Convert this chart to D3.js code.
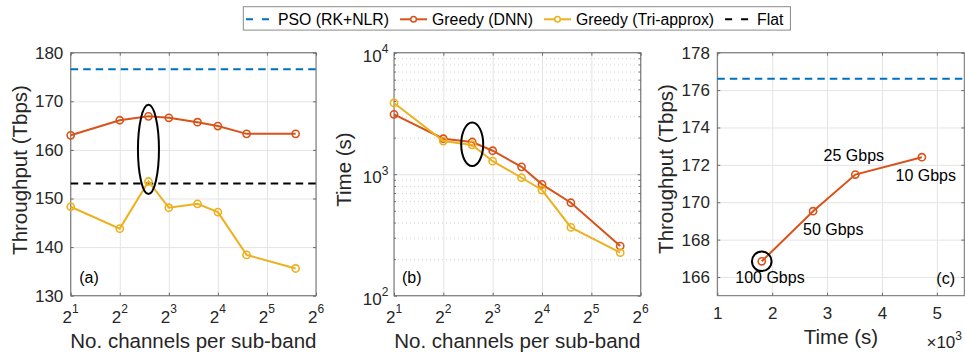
<!DOCTYPE html>
<html>
<head>
<meta charset="utf-8">
<script src="https://cdn.jsdelivr.net/npm/d3@7"></script>
<style>
  body { margin: 0; background: #fff; }
  svg { display: block; font-family: "Liberation Sans", Arial, Helvetica, sans-serif; }
</style>
</head>
<body>
<svg id="fig" width="965" height="354"></svg>
<script>
// channels per sub-band (x axis of panels a and b)
const channels = [2, 4, 6, 8, 12, 16, 24, 48];
// throughput (Tbps)
const thrDNN = [163.0, 166.1, 166.9, 166.6, 165.7, 164.9, 163.3, 163.3];
const thrTri = [148.3, 143.8, 153.5, 148.1, 148.9, 147.2, 138.4, 135.6];
const thrPSO = 176.6;
const thrFlat = 153.1;
// run time (s)
const timeDNN = [3110, 1960, 1840, 1560, 1150, 825, 582, 256];
const timeTri = [3860, 1875, 1740, 1280, 935, 741, 365, 226];
// panel c: DNN greedy for different line rates
const rateLabels = ["100 Gbps", "50 Gbps", "25 Gbps", "10 Gbps"];
const rateTime = [1810, 2745, 3515, 4727];
const rateThr = [166.84, 169.52, 171.48, 172.41];

const seriesNames = ["PSO (RK+NLR)", "Greedy (DNN)", "Greedy (Tri-approx)", "Flat"];

// tick values
const chanTicks = [2, 4, 8, 16, 32, 64];
const thrTicksA = [130, 140, 150, 160, 170, 180];
const timeTicksB = [100, 1000, 10000];
const timeTicksC = [1000, 2000, 3000, 4000, 5000];
const thrTicksC = [166, 168, 170, 172, 174, 176, 178];

const col = { pso: "#0072BD", dnn: "#D95319", tri: "#EDB120", flat: "#000000" };
const txt = "#262626";
const gridCol = "#e4e4e4";
const boxCol = "#6b6b6b";

const svg = d3.select("#fig");
const plotTop = 52.7, plotBottom = 295.7;

function panel(left, right) {
  const g = svg.append("g").attr("transform", `translate(${left},${plotTop})`);
  return { g, left, w: right - left, h: plotBottom - plotTop };
}

// gridlines, inward ticks on all four sides, and the box
function frame(p, x, y, xt, yt) {
  p.g.append("g")
    .attr("transform", `translate(0,${p.h})`)
    .attr("color", gridCol)
    .call(d3.axisBottom(x).tickValues(xt).tickSize(-p.h).tickFormat(""))
    .call(a => a.select(".domain").remove());
  p.g.append("g")
    .attr("color", gridCol)
    .call(d3.axisLeft(y).tickValues(yt).tickSize(-p.w).tickFormat(""))
    .call(a => a.select(".domain").remove());

  const tk = [
    [d3.axisBottom(x).tickValues(xt), `translate(0,${p.h})`],
    [d3.axisTop(x).tickValues(xt), null],
    [d3.axisLeft(y).tickValues(yt), null],
    [d3.axisRight(y).tickValues(yt), `translate(${p.w},0)`]
  ];
  tk.forEach(([ax, tr]) => {
    const a = p.g.append("g").attr("color", boxCol)
      .call(ax.tickSizeInner(-3).tickSizeOuter(0).tickFormat(""));
    if (tr) a.attr("transform", tr);
    a.select(".domain").remove();
  });

  p.g.append("rect")
    .attr("width", p.w).attr("height", p.h)
    .attr("fill", "none").attr("stroke", boxCol).attr("stroke-width", 1);
}

function series(p, x, y, xs, ys, color) {
  const pts = xs.map((v, i) => [x(v), y(ys[i])]);
  p.g.append("path")
    .attr("d", d3.line()(pts))
    .attr("fill", "none").attr("stroke", color).attr("stroke-width", 2);
  p.g.selectAll(null).data(pts).join("circle")
    .attr("cx", d => d[0]).attr("cy", d => d[1]).attr("r", 3.6)
    .attr("fill", "none").attr("stroke", color).attr("stroke-width", 1.6);
}

function hline(p, y, v, color) {
  p.g.append("line")
    .attr("x1", 0).attr("x2", p.w).attr("y1", y(v)).attr("y2", y(v))
    .attr("stroke", color).attr("stroke-width", 2).attr("stroke-dasharray", "7.5,5");
}

// 2^n labels under a log2 axis
function powLabels(p, x, base) {
  const a = p.g.append("g").attr("transform", `translate(0,${p.h})`);
  const t = a.selectAll(null).data(chanTicks).join("text")
    .attr("x", d => x(d)).attr("y", 27.3)
    .attr("text-anchor", "middle").attr("fill", txt);
  t.append("tspan").attr("font-size", 17).text(base);
  t.append("tspan").attr("font-size", 12).attr("dy", -9.8).text(d => Math.round(Math.log2(d)));
}

function yLabel(x, yc, s) {
  svg.append("text")
    .attr("transform", `translate(${x},${yc}) rotate(-90)`)
    .attr("text-anchor", "middle").attr("font-size", 20.5).attr("fill", txt).text(s);
}
function xLabel(xc, y, s) {
  svg.append("text")
    .attr("x", xc).attr("y", y)
    .attr("text-anchor", "middle").attr("font-size", 20.5).attr("fill", txt).text(s);
}
function tag(p, x, y, s, anchor) {
  p.g.append("text").attr("x", x).attr("y", y).attr("text-anchor", anchor || "start")
    .attr("font-size", 16).attr("fill", "#000").text(s);
}

// ---------- panel (a): throughput vs channels ----------
const pa = panel(70.7, 316);
const xa = d3.scaleLog().base(2).domain([2, 64]).range([0, pa.w]);
const ya = d3.scaleLinear().domain([130, 180]).range([pa.h, 0]);
frame(pa, xa, ya, chanTicks, thrTicksA);
hline(pa, ya, thrPSO, col.pso);
hline(pa, ya, thrFlat, col.flat);
series(pa, xa, ya, channels, thrDNN, col.dnn);
series(pa, xa, ya, channels, thrTri, col.tri);
{
  const yD = ya(thrDNN[2]), yT = ya(thrTri[2]);
  pa.g.append("ellipse")
    .attr("cx", xa(channels[2])).attr("cy", (yD + yT) / 2 + 0.5)
    .attr("rx", 10.5).attr("ry", (yT - yD) / 2 + 12)
    .attr("fill", "none").attr("stroke", "#000").attr("stroke-width", 2);
}
pa.g.append("g")
  .call(d3.axisLeft(ya).tickValues(thrTicksA).tickSizeInner(0).tickSizeOuter(0).tickPadding(7.4))
  .call(a => a.select(".domain").remove())
  .call(a => a.selectAll("text").attr("font-size", 17).attr("fill", txt)
    .attr("font-family", null));
powLabels(pa, xa, "2");
tag(pa, 8.5, 283.3 - plotTop, "(a)");

// ---------- panel (b): time vs channels ----------
const pb = panel(394, 640.7);
const xb = d3.scaleLog().base(2).domain([2, 64]).range([0, pb.w]);
const yb = d3.scaleLog().domain([100, 10000]).range([pb.h, 0]);
// dotted minor grid for the log axis
const minor = [];
[100, 1000].forEach(dec => { for (let k = 2; k <= 9; k++) minor.push(k * dec); });
pb.g.append("g")
  .attr("color", "#d4d4d4")
  .call(d3.axisLeft(yb).tickValues(minor).tickSize(-pb.w).tickFormat(""))
  .call(a => a.select(".domain").remove())
  .call(a => a.selectAll("line").attr("stroke-dasharray", "1,3"));
frame(pb, xb, yb, chanTicks, timeTicksB);
[[d3.axisLeft(yb), null], [d3.axisRight(yb), `translate(${pb.w},0)`]].forEach(([ax, tr]) => {
  const a = pb.g.append("g").attr("color", boxCol)
    .call(ax.tickValues(minor).tickSizeInner(-2).tickSizeOuter(0).tickFormat(""));
  if (tr) a.attr("transform", tr);
  a.select(".domain").remove();
});
series(pb, xb, yb, channels, timeDNN, col.dnn);
series(pb, xb, yb, channels, timeTri, col.tri);
{
  const yD = yb(timeDNN[2]), yT = yb(timeTri[2]);
  pb.g.append("ellipse")
    .attr("cx", xb(channels[2])).attr("cy", (yD + yT) / 2 + 0.8)
    .attr("rx", 11).attr("ry", (yT - yD) / 2 + 20.3)
    .attr("fill", "none").attr("stroke", "#000").attr("stroke-width", 2);
}
{
  const t = pb.g.append("g").selectAll(null).data(timeTicksB).join("text")
    .attr("x", -5.7).attr("y", d => yb(d) + 9)
    .attr("text-anchor", "end").attr("fill", txt);
  t.append("tspan").attr("font-size", 17).text("10");
  t.append("tspan").attr("font-size", 12).attr("dy", -8.4).text(d => Math.round(Math.log10(d)));
}
powLabels(pb, xb, "2");
tag(pb, 8, 283.3 - plotTop, "(b)");

// ---------- panel (c): throughput vs time for line rates ----------
const pc = panel(717.3, 964.3);
const xc = d3.scaleLinear().domain([1000, 5500]).range([0, pc.w]);
const yc = d3.scaleLinear().domain([165, 178]).range([pc.h, 0]);
frame(pc, xc, yc, timeTicksC, thrTicksC);
hline(pc, yc, thrPSO, col.pso);
series(pc, xc, yc, rateTime, rateThr, col.dnn);
pc.g.append("circle")
  .attr("cx", xc(rateTime[0])).attr("cy", yc(rateThr[0])).attr("r", 9.8)
  .attr("fill", "none").attr("stroke", "#000").attr("stroke-width", 2);
pc.g.append("g")
  .call(d3.axisLeft(yc).tickValues(thrTicksC).tickSizeInner(0).tickSizeOuter(0).tickPadding(7.4))
  .call(a => a.select(".domain").remove())
  .call(a => a.selectAll("text").attr("font-size", 17).attr("fill", txt).attr("font-family", null));
pc.g.append("g").attr("transform", `translate(0,${pc.h})`)
  .call(d3.axisBottom(xc).tickValues(timeTicksC).tickFormat(d => d / 1000)
    .tickSizeInner(0).tickSizeOuter(0).tickPadding(10.8))
  .call(a => a.select(".domain").remove())
  .call(a => a.selectAll("text").attr("font-size", 17).attr("fill", txt).attr("font-family", null));
// line-rate annotations, offsets from each point
const rateOff = [[8.2, 22.2], [20.2, 23.8], [-1.5, -13.6], [3.9, 23.8]];
rateLabels.forEach((s, i) => {
  pc.g.append("text")
    .attr("x", xc(rateTime[i]) + rateOff[i][0]).attr("y", yc(rateThr[i]) + rateOff[i][1])
    .attr("text-anchor", "middle").attr("font-size", 16).attr("fill", "#000").text(s);
});
tag(pc, pc.w - 9.3, 284 - plotTop, "(c)", "end");
{
  const t = svg.append("text").attr("x", 962).attr("y", 348)
    .attr("text-anchor", "end").attr("fill", txt);
  t.append("tspan").attr("font-size", 17).text("\u00d710");
  t.append("tspan").attr("font-size", 12).attr("dy", -8.5).text("3");
}

// axis titles
yLabel(27, 170, "Throughput (Tbps)");
xLabel(193.4, 348, "No. channels per sub-band");
yLabel(351.2, 169.5, "Time (s)");
xLabel(517.3, 348, "No. channels per sub-band");
yLabel(673, 169, "Throughput (Tbps)");
xLabel(841, 343.5, "Time (s)");

// ---------- legend ----------
const legendStyle = [
  { color: col.pso, dash: "7,9", marker: false },
  { color: col.dnn, dash: null, marker: true },
  { color: col.tri, dash: null, marker: true },
  { color: col.flat, dash: "7,9", marker: false }
];
const lg = svg.append("g");
const box = lg.append("rect");
let cx = 246;
seriesNames.forEach((name, i) => {
  const st = legendStyle[i];
  lg.append("line")
    .attr("x1", cx).attr("x2", cx + 27).attr("y1", 19.3).attr("y2", 19.3)
    .attr("stroke", st.color).attr("stroke-width", 2)
    .attr("stroke-dasharray", st.dash);
  if (st.marker) {
    lg.append("circle").attr("cx", cx + 13.5).attr("cy", 19.3).attr("r", 2.8)
      .attr("fill", "#fff").attr("stroke", st.color).attr("stroke-width", 1.5);
  }
  const t = lg.append("text").attr("x", cx + 32).attr("y", 24.5)
    .attr("font-size", 15.8).attr("fill", "#000").text(name);
  cx += 32 + t.node().getComputedTextLength() + 11;
});
box.attr("x", 243.3).attr("y", 6.7).attr("width", cx - 11 + 7 - 243.3).attr("height", 23.4)
  .attr("fill", "#fff").attr("stroke", "#8a8a8a").attr("stroke-width", 1);
</script>
</body>
</html>
